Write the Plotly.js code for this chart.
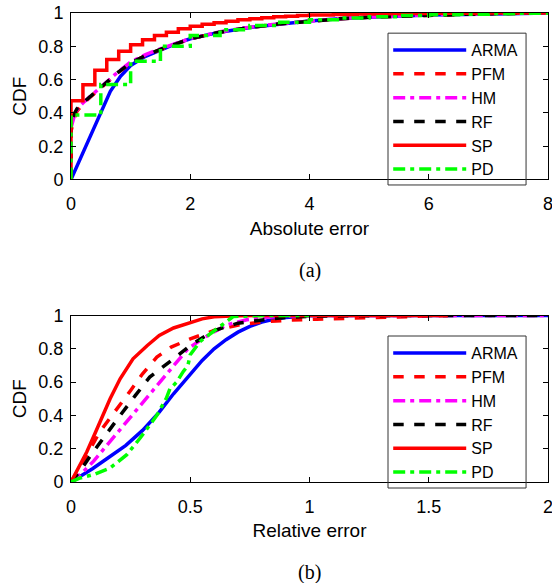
<!DOCTYPE html>
<html>
<head>
<meta charset="utf-8">
<script src="https://cdn.plot.ly/plotly-3.0.1.min.js"></script>
<style>html,body{margin:0;padding:0;background:#fff;}#chart{width:552px;height:583px;}</style>
</head>
<body>
<div id="chart"></div>
<script>
// ---------- (a) Absolute error ----------
const seriesNames = ['ARMA', 'PFM', 'HM', 'RF', 'SP', 'PD'];

const absArmaX = [0, 0.1, 0.27, 0.49, 0.66, 0.83, 1.0, 1.25, 1.5, 1.75, 2.0, 2.5, 3.0, 3.5, 4.0, 4.5, 5.0, 6.0, 7.0, 8.0];
const absArmaY = [0, 0.08, 0.21, 0.39, 0.53, 0.62, 0.685, 0.74, 0.78, 0.815, 0.845, 0.885, 0.913, 0.935, 0.952, 0.965, 0.975, 0.988, 0.996, 1.0];

const absPfmX = [0, 0, 0.05, 0.1, 0.2, 0.4, 0.6, 0.8, 1.0, 1.25, 1.5, 1.75, 2.0, 2.5, 3.0, 3.5, 4.0, 4.5, 5.0, 6.0, 7.0, 8.0];
const absPfmY = [0, 0.29, 0.36, 0.41, 0.455, 0.52, 0.585, 0.645, 0.70, 0.745, 0.78, 0.815, 0.845, 0.885, 0.913, 0.935, 0.952, 0.965, 0.975, 0.988, 0.996, 1.0];

const absHmX = [0, 0, 0.05, 0.1, 0.2, 0.4, 0.6, 0.8, 1.0, 1.25, 1.5, 1.75, 2.0, 2.5, 3.0, 3.5, 4.0, 4.5, 5.0, 6.0, 7.0, 8.0];
const absHmY = [0, 0.31, 0.375, 0.42, 0.46, 0.525, 0.59, 0.65, 0.705, 0.75, 0.785, 0.818, 0.847, 0.887, 0.915, 0.936, 0.953, 0.966, 0.976, 0.989, 0.996, 1.0];

const absRfX = [0, 0, 0.05, 0.1, 0.2, 0.4, 0.6, 0.8, 1.0, 1.25, 1.5, 1.75, 2.0, 2.5, 3.0, 3.5, 4.0, 4.5, 5.0, 6.0, 7.0, 8.0];
const absRfY = [0, 0.34, 0.39, 0.425, 0.46, 0.522, 0.587, 0.647, 0.70, 0.745, 0.782, 0.815, 0.845, 0.885, 0.913, 0.935, 0.952, 0.965, 0.975, 0.988, 0.996, 1.0];

const absSpX = [0, 0, 0.2, 0.4, 0.6, 0.8, 1.0, 1.2, 1.4, 1.6, 1.8, 2.0, 2.2, 2.4, 2.6, 2.8, 3.0, 3.2, 3.4, 3.6, 3.8, 4.0, 4.4, 4.8, 5.2, 5.6, 6.0, 6.5, 7.0, 8.0];
const absSpY = [0, 0.473, 0.569, 0.656, 0.72, 0.77, 0.81, 0.84, 0.865, 0.885, 0.905, 0.92, 0.932, 0.942, 0.951, 0.959, 0.966, 0.972, 0.977, 0.981, 0.985, 0.988, 0.991, 0.994, 0.996, 0.997, 0.998, 0.999, 1.0, 1.0];

const absPdX = [0, 0, 0.5, 1.0, 1.5, 2.0, 2.5, 3.0, 3.5, 4.0, 4.5, 5.0, 5.5, 6.0, 6.5, 7.0, 7.5, 8.0];
const absPdY = [0, 0.388, 0.57, 0.71, 0.80, 0.865, 0.90, 0.925, 0.945, 0.96, 0.97, 0.978, 0.985, 0.99, 0.993, 0.996, 0.998, 1.0];

// ---------- (b) Relative error ----------
const relArmaX = [0, 0.04, 0.09, 0.15, 0.23, 0.30, 0.37, 0.43, 0.49, 0.55, 0.60, 0.65, 0.70, 0.75, 0.80, 0.85, 0.90, 0.95, 1.0, 1.1, 1.3, 1.6, 2.0];
const relArmaY = [0, 0.035, 0.08, 0.14, 0.22, 0.31, 0.42, 0.53, 0.63, 0.73, 0.80, 0.855, 0.90, 0.935, 0.96, 0.977, 0.988, 0.995, 0.999, 1.0, 1.0, 1.0, 1.0];

const relPfmX = [0, 0.05, 0.12, 0.19, 0.25, 0.30, 0.36, 0.42, 0.50, 0.60, 0.71, 0.81, 0.91, 1.03, 1.15, 1.3, 1.45, 1.58];
const relPfmY = [0, 0.12, 0.30, 0.43, 0.55, 0.65, 0.75, 0.81, 0.86, 0.91, 0.945, 0.962, 0.972, 0.978, 0.983, 0.988, 0.995, 1.0];

const relHmX = [0, 0.05, 0.094, 0.164, 0.234, 0.304, 0.374, 0.43, 0.49, 0.555, 0.653, 0.737, 0.82, 0.9, 1.0, 1.3, 2.0];
const relHmY = [0, 0.06, 0.124, 0.244, 0.364, 0.48, 0.60, 0.70, 0.80, 0.864, 0.944, 0.974, 0.99, 0.997, 1.0, 1.0, 1.0];

const relRfX = [0, 0.04, 0.08, 0.143, 0.206, 0.27, 0.33, 0.43, 0.50, 0.60, 0.70, 0.81, 0.9, 1.0, 1.2, 1.6, 2.0];
const relRfY = [0, 0.07, 0.155, 0.28, 0.40, 0.52, 0.63, 0.74, 0.82, 0.91, 0.954, 0.975, 0.988, 0.995, 0.999, 1.0, 1.0];

const relSpX = [0, 0.03, 0.066, 0.1, 0.122, 0.164, 0.206, 0.26, 0.32, 0.37, 0.43, 0.49, 0.55, 0.6, 0.7, 0.9, 1.2, 1.58];
const relSpY = [0, 0.08, 0.18, 0.29, 0.36, 0.50, 0.62, 0.74, 0.82, 0.88, 0.925, 0.955, 0.98, 0.992, 0.999, 1.0, 1.0, 1.0];

const relPdX = [0, 0.038, 0.094, 0.164, 0.234, 0.29, 0.36, 0.40, 0.415, 0.443, 0.471, 0.49, 0.5, 0.541, 0.597, 0.64, 0.68, 0.8, 1.0];
const relPdY = [0, 0.024, 0.044, 0.084, 0.164, 0.264, 0.40, 0.504, 0.56, 0.60, 0.664, 0.70, 0.764, 0.844, 0.904, 0.954, 0.994, 1.0, 1.0];

const absTickVals = [0, 2, 4, 6, 8];
const relTickVals = [0, 0.5, 1, 1.5, 2];
const cdfTickVals = [0, 0.2, 0.4, 0.6, 0.8, 1];

// ---------- styles ----------
const W = 3.5;
const styles = [
  {color: '#0000FF', dash: 'solid'},
  {color: '#FF0000', dash: 'dash'},
  {color: '#FF00FF', dash: '12px,5px,4px,5px'},
  {color: '#000000', dash: 'dash'},
  {color: '#FF0000', dash: 'solid'},
  {color: '#00FF00', dash: '12px,5px,4px,5px'}
];
const absData = [[absArmaX, absArmaY], [absPfmX, absPfmY], [absHmX, absHmY], [absRfX, absRfY], [absSpX, absSpY], [absPdX, absPdY]];
const relData = [[relArmaX, relArmaY], [relPfmX, relPfmY], [relHmX, relHmY], [relRfX, relRfY], [relSpX, relSpY], [relPdX, relPdY]];
const stepped = [false, false, false, false, true, true];

const traces = [];
absData.forEach((d, i) => {
  traces.push({
    x: d[0], y: d[1], type: 'scatter', mode: 'lines', name: seriesNames[i],
    xaxis: 'x', yaxis: 'y', legend: 'legend',
    line: {color: styles[i].color, dash: styles[i].dash, width: W, shape: stepped[i] ? 'hv' : 'linear'}
  });
});
relData.forEach((d, i) => {
  traces.push({
    x: d[0], y: d[1], type: 'scatter', mode: 'lines', name: seriesNames[i],
    xaxis: 'x2', yaxis: 'y2', legend: 'legend2',
    line: {color: styles[i].color, dash: styles[i].dash, width: W}
  });
});

const FONT = 'Liberation Sans, Arial, sans-serif';
function axisBase(extra) {
  return Object.assign({
    showgrid: false, zeroline: false, showline: true, linecolor: '#000', linewidth: 1,
    mirror: 'ticks', ticks: 'inside', ticklen: 5, tickcolor: '#000', tickwidth: 1,
    ticklabeloverflow: 'allow',
    tickfont: {family: FONT, size: 18, color: '#000'}, fixedrange: true
  }, extra);
}

const legendBase = {
  xanchor: 'left', yanchor: 'top', bgcolor: 'rgba(255,255,255,0)', borderwidth: 0,
  font: {family: FONT, size: 16, color: '#000'}, itemwidth: 73, tracegroupgap: 0
};

// legend frames (paper coordinates)
const legendFrameX = [0.6646, 0.954];
const legendFrameTopY = [0.6333, 0.957];
const legendFrameBotY = [-0.0128, 0.3113];

const layout = {
  width: 552, height: 583,
  margin: {l: 71, r: 4, t: 13, b: 101},
  paper_bgcolor: '#fff', plot_bgcolor: '#fff',
  showlegend: true,
  xaxis: axisBase({domain: [0, 1], range: [0, 8], tickvals: absTickVals, ticklabelstandoff: 8,
    anchor: 'y', title: {text: 'Absolute error', font: {family: FONT, size: 19, color: '#000'}, standoff: 8}}),
  yaxis: axisBase({domain: [0.645, 1], range: [0, 1], tickvals: cdfTickVals, ticklabelstandoff: 3,
    anchor: 'x', title: {text: 'CDF', font: {family: FONT, size: 19, color: '#000'}, standoff: 6}}),
  xaxis2: axisBase({domain: [0, 1], range: [0, 2], tickvals: relTickVals, ticklabelstandoff: 8,
    anchor: 'y2', title: {text: 'Relative error', font: {family: FONT, size: 19, color: '#000'}, standoff: 8}}),
  yaxis2: axisBase({domain: [0, 0.355], range: [0, 1], tickvals: cdfTickVals, ticklabelstandoff: 3,
    anchor: 'x2', title: {text: 'CDF', font: {family: FONT, size: 19, color: '#000'}, standoff: 6}}),
  legend: Object.assign({x: 0.665, y: 0.957}, legendBase),
  legend2: Object.assign({x: 0.665, y: 0.311}, legendBase),
  shapes: [
    {type: 'rect', xref: 'paper', yref: 'paper', x0: legendFrameX[0], x1: legendFrameX[1],
     y0: legendFrameTopY[0], y1: legendFrameTopY[1], line: {color: '#333', width: 1}, fillcolor: 'rgba(0,0,0,0)', layer: 'above'},
    {type: 'rect', xref: 'paper', yref: 'paper', x0: legendFrameX[0], x1: legendFrameX[1],
     y0: legendFrameBotY[0], y1: legendFrameBotY[1], line: {color: '#333', width: 1}, fillcolor: 'rgba(0,0,0,0)', layer: 'above'}
  ],
  annotations: [
    {text: '(a)', xref: 'paper', yref: 'paper', x: 0.5, y: 0.452, xanchor: 'center', yanchor: 'middle',
     showarrow: false, font: {family: 'Liberation Serif, Times New Roman, serif', size: 20, color: '#000'}},
    {text: '(b)', xref: 'paper', yref: 'paper', x: 0.5, y: -0.194, xanchor: 'center', yanchor: 'middle',
     showarrow: false, font: {family: 'Liberation Serif, Times New Roman, serif', size: 20, color: '#000'}}
  ]
};

Plotly.newPlot('chart', traces, layout, {displayModeBar: false, staticPlot: true});
</script>
</body>
</html>
